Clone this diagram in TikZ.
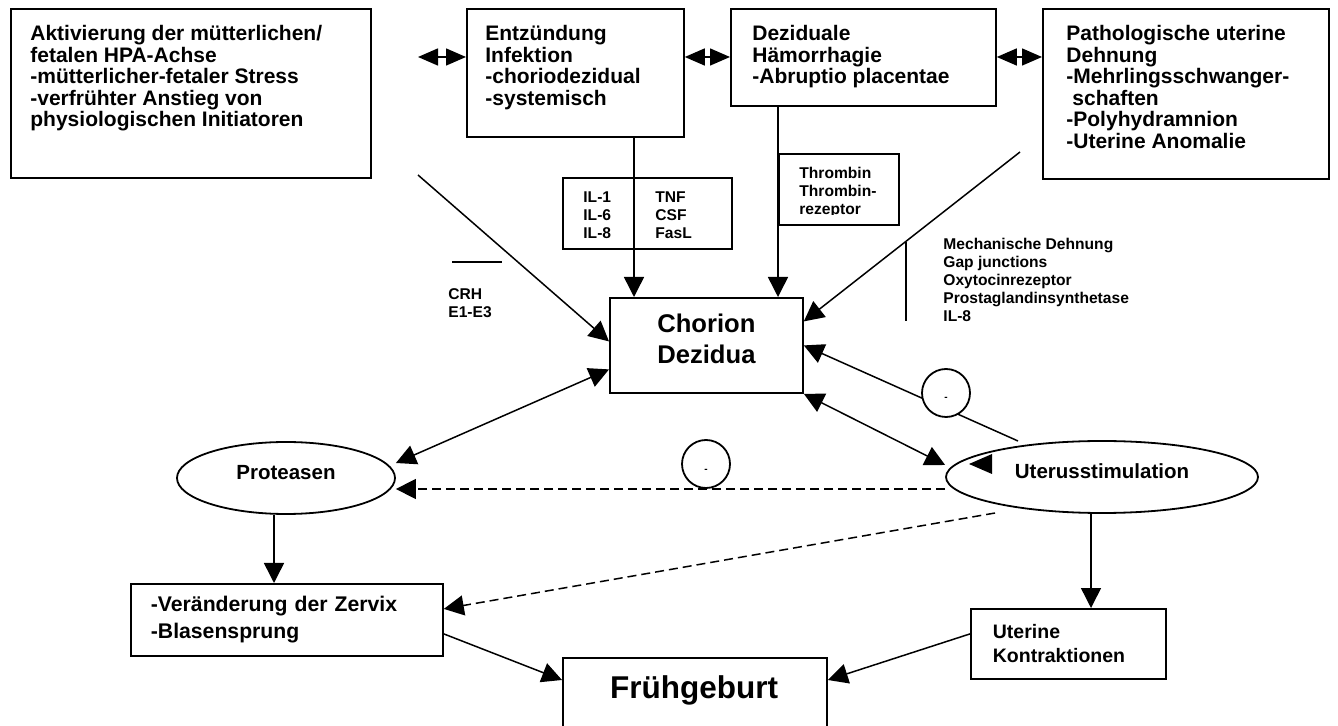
\documentclass[tikz,border=0pt]{standalone}
\usepackage{fontspec}
\setmainfont{Liberation Sans}
\usetikzlibrary{arrows.meta,shapes.geometric}

\begin{document}
\begin{tikzpicture}[x=0.5pt,y=-0.5pt,
    kasten/.style={draw,line width=0.9pt,inner sep=0pt,anchor=north west},
    txt/.style={anchor=north west,inner sep=0pt,align=left,font=\bfseries\fontsize{10.5}{10.75}\selectfont},
    klein/.style={anchor=north west,inner sep=0pt,align=left,font=\bfseries\fontsize{7.8}{9}\selectfont},
    oval/.style={ellipse,draw,line width=0.9pt,inner sep=0pt,minimum height=36pt,text depth=5.5pt,font=\bfseries\fontsize{10.25}{12}\selectfont},
    hemm/.style={circle,draw,fill=white,line width=0.9pt,minimum size=24pt,inner sep=0pt},
    minus/.style={inner sep=0pt,font=\bfseries\fontsize{5}{6}\selectfont},
    pfeil/.style={line width=0.75pt,-{Triangle[length=10pt,width=10pt]}},
    bpfeil/.style={line width=0.75pt,{Triangle[length=10pt,width=10pt]}-{Triangle[length=10pt,width=10pt]}},
    dpfeil/.style={line width=0.75pt,{Triangle[length=10pt,width=8.5pt]}-{Triangle[length=10pt,width=8.5pt]}},
    strich/.style={dash pattern=on 4.5pt off 2.5pt}]
    \path[use as bounding box,clip] (0,0) rectangle (1338,726);

    \node[kasten,minimum width=180pt,minimum height=84.5pt] (hpa) at (10,8) {};
    \node[kasten,minimum width=108.5pt,minimum height=64pt] (entz) at (466,8) {};
    \node[kasten,minimum width=132.5pt,minimum height=48.5pt] (dez) at (730,8) {};
    \node[kasten,minimum width=143pt,minimum height=85pt] (deh) at (1042,8) {};
    \node[txt] (hpaT) at (30,25) {Aktivierung der mütterlichen/\\fetalen HPA-Achse\\-mütterlicher-fetaler Stress\\-verfrühter Anstieg von\\physiologischen Initiatoren};
    \node[txt] (entzT) at (485,25) {Entzündung\\Infektion\\-choriodezidual\\-systemisch};
    \node[txt] (dezT) at (752,25) {Deziduale\\Hämorrhagie\\-Abruptio placentae};
    \node[txt] (dehT) at (1066,25) {Pathologische uterine\\Dehnung\\-Mehrlingsschwanger-\\\hspace{3pt}schaften\\-Polyhydramnion\\-Uterine Anomalie};

    \node[kasten,minimum width=84.5pt,minimum height=35.5pt] (il) at (562,177) {};
    \node[klein] (ilA) at (583,191.3) {IL-1\\IL-6\\IL-8};
    \node[klein] (ilB) at (655,191.3) {TNF\\CSF\\FasL};
    \node[kasten,minimum width=60pt,minimum height=35.5pt] (thr) at (778,153) {};
    \begin{scope}
      \clip (778,150) rectangle (898,215);
      \node[klein] (thrT) at (799,167) {Thrombin\\Thrombin-\\rezeptor};
    \end{scope}
    \node[klein] (crh) at (448,288) {CRH\\E1-E3};
    \node[klein] (mech) at (943,238) {Mechanische Dehnung\\Gap junctions\\Oxytocinrezeptor\\Prostaglandinsynthetase\\IL-8};
    \draw[line width=0.75pt] (452,262) -- (502,262);
    \draw[line width=0.75pt] (906,242) -- (906,321);

    \node[kasten,minimum width=96.5pt,minimum height=47.5pt,align=center,text depth=6.5pt,
      font=\bfseries\fontsize{12.8}{15.5}\selectfont] (chor) at (609,297) {Chorion\\Dezidua};
    \node[oval,minimum width=109pt] (prot) at (286,478) {Proteasen};
    \node[oval,minimum width=156pt] (uts) at (1102,477) {Uterusstimulation};
    \fill (969,464) -- (992,454) -- (992,474) -- cycle;
    \node[kasten,minimum height=36pt,text width=136pt,inner xsep=10pt,align=left,
      font=\bfseries\fontsize{10.6}{13.5}\selectfont] (zerv) at (130,583) {-Veränderung der Zervix\\-Blasensprung};
    \node[kasten,minimum height=35pt,text width=75.5pt,inner xsep=11pt,align=left,
      font=\bfseries\fontsize{9.75}{12}\selectfont] (kontr) at (970,608) {Uterine\\Kontraktionen};
    \node[kasten,minimum width=132pt,minimum height=55pt] (frueh) at (562,657) {};
    \node[anchor=base,inner sep=0pt,font=\bfseries\fontsize{15.75}{18}\selectfont] (fruehT) at (694,698) {Frühgeburt};

    \coordinate (xil) at (634,0);
    \coordinate (xth) at (778,0);
    \coordinate (xpr) at (274,0);
    \coordinate (xut) at (1091,0);
    \coordinate (dp) at (418,57);
    \coordinate (s1) at (418,175);
    \coordinate (s2) at (1020,152);
    \coordinate (s3) at (1018,441);
    \coordinate (s4) at (995,513);

    \draw[dpfeil] (dp) -- (entz.west |- dp);
    \draw[dpfeil] (entz.east |- dp) -- (dez.west |- dp);
    \draw[dpfeil] (dez.east |- dp) -- (deh.west |- dp);
    \draw[pfeil] (entz.south -| xil) -- (chor.north -| xil);
    \draw[pfeil] (dez.south -| xth) -- (chor.north -| xth);
    \draw[pfeil] (s1) -- ([yshift=2pt]chor.west);
    \draw[pfeil] (s2) -- ([yshift=12pt]chor.east);
    \draw[pfeil] (s3) -- (chor.east);
    \draw[bpfeil] (chor.south east) -- ([yshift=6pt]uts.west);
    \draw[bpfeil] ([yshift=-12pt]chor.west) -- ([yshift=7.5pt]prot.east);
    \draw[pfeil,strich] ([yshift=-6pt]uts.west) -- ([yshift=-5.5pt]prot.east);
    \draw[pfeil,strich] (s4) -- ([yshift=5.5pt]zerv.east);
    \draw[pfeil] (prot.south -| xpr) -- (zerv.north -| xpr);
    \draw[pfeil] (uts.south -| xut) -- (kontr.north -| xut);
    \draw[pfeil] ([yshift=-7pt]zerv.east) -- ([yshift=-11.5pt]frueh.north west);
    \draw[pfeil] ([yshift=5pt]kontr.west) -- ([yshift=-11.5pt]frueh.north east);

    \node[hemm] (h1) at (706,464) {};
    \node[minus] (h1m) at (706,471) {-};
    \node[hemm] (h2) at (946,393) {};
    \node[minus] (h2m) at (946,399) {-};
\end{tikzpicture}
\end{document}
